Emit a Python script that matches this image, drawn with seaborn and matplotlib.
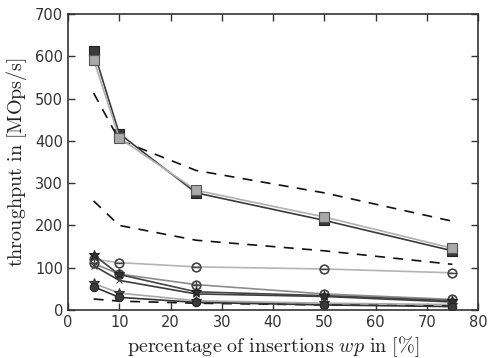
import matplotlib
matplotlib.use("Agg")
import matplotlib.pyplot as plt
import seaborn as sns
import pandas as pd

x_values = [5, 10, 25, 50, 75]

sq_dark = [613, 417, 277, 212, 140]
sq_light = [592, 407, 283, 220, 146]
dash_upper = [513, 402, 330, 277, 210]
dash_middle = [258, 200, 165, 140, 108]
dash_lower = [26, 21, 16, 12, 11]
ominus_light = [120, 112, 102, 97, 88]
oplus_mid = [110, 85, 60, 38, 25]
star_dark = [130, 84, 43, 34, 22]
x_dark = [105, 70, 38, 32, 19]
star_light = [63, 40, 22, 16, 13]
circle_dark = [55, 30, 18, 12, 8]

xticks = [0, 10, 20, 30, 40, 50, 60, 70, 80]
yticks = [0, 100, 200, 300, 400, 500, 600, 700]

sns.set_style("ticks")
plt.rcParams["mathtext.fontset"] = "cm"
plt.rcParams["font.family"] = ["DejaVu Sans"]

fig = plt.figure(figsize=(4.88, 3.58), dpi=100)
ax = fig.add_axes([68/488, 1-310/358, 410/488, 296/358])

series = [
    # values, line color, marker, marker face, marker edge, linestyle, msize
    (dash_upper, "#111111", None, None, None, (0, (6, 5)), 0),
    (dash_middle, "#111111", None, None, None, (0, (6, 5)), 0),
    (dash_lower, "#111111", None, None, None, (0, (6, 5)), 0),
    (ominus_light, "#b4b4b4", r"$\ominus$", "#444444", "#444444", "-", 6.5),
    (oplus_mid, "#8c8c8c", r"$\oplus$", "#444444", "#444444", "-", 6.5),
    (x_dark, "#3c3c3c", "x", "#444444", "#444444", "-", 4.5),
    (star_dark, "#444444", "*", "#333333", "#222222", "-", 7),
    (star_light, "#a8a8a8", "*", "#555555", "#333333", "-", 7),
    (circle_dark, "#333333", "o", "#3a3a3a", "#222222", "-", 6),
    (sq_dark, "#3a3a3a", "s", "#3a3a3a", "#222222", "-", 6.5),
    (sq_light, "#b0b0b0", "s", "#a8a8a8", "#555555", "-", 6.5),
]

for vals, lc, mk, mfc, mec, ls, ms in series:
    df = pd.DataFrame({"x": x_values, "y": vals})
    kw = dict(color=lc, linestyle=ls, linewidth=1.2)
    if mk is not None:
        kw.update(marker=mk, markerfacecolor=mfc, markeredgecolor=mec,
                  markersize=ms, markeredgewidth=0.8)
    sns.lineplot(data=df, x="x", y="y", ax=ax, **kw)

ax.set_xlim(0, 80)
ax.set_ylim(0, 700)
ax.set_xticks(xticks)
ax.set_yticks(yticks)
ax.tick_params(direction="in", top=True, right=True, length=5, width=1,
               colors="#333333", labelcolor="#333333", labelsize=10.5)
for s in ax.spines.values():
    s.set_color("#333333")
    s.set_linewidth(1.2)

ax.set_xlabel(r"$\mathrm{percentage\ of\ insertions\ }wp\mathrm{\ in\ [\%]}$",
              fontsize=14.5, color="#222222", labelpad=3)
ax.set_ylabel(r"$\mathrm{throughput\ in\ [MOps/s]}$", fontsize=14.5,
              color="#222222", labelpad=4)

fig.savefig("out.png", dpi=100)
